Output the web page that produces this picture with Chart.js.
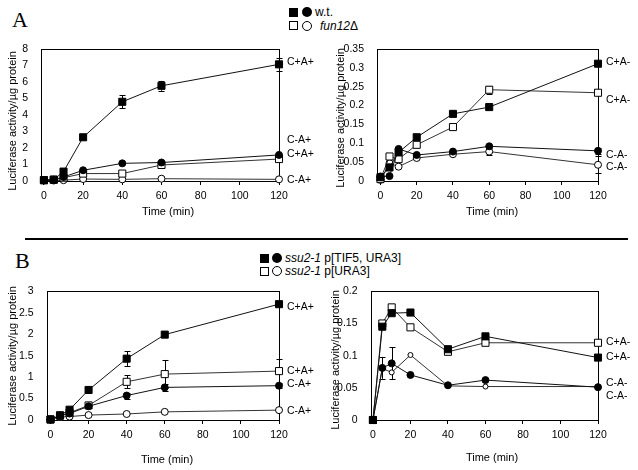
<!DOCTYPE html>
<html><head><meta charset="utf-8">
<script src="https://cdn.jsdelivr.net/npm/chart.js@4.4.1/dist/chart.umd.min.js"></script>
<style>
html,body{margin:0;padding:0;background:#fff;}
#wrap{position:relative;width:638px;height:470px;overflow:hidden;font-family:"Liberation Sans",Arial,sans-serif;color:#000;}
canvas{position:absolute;}
.lbl{position:absolute;font-size:12px;line-height:14px;white-space:nowrap;}
.big{position:absolute;font-family:"Liberation Serif","Times New Roman",serif;font-size:22px;line-height:22px;}
.sq{position:absolute;width:9px;height:9px;background:#000;box-sizing:border-box;}
.sq.o{background:#fff;border:1px solid #000;}
.ci{position:absolute;width:10px;height:10px;border-radius:50%;background:#000;box-sizing:border-box;}
.ci.o{background:#fff;border:1px solid #000;}
#rule{position:absolute;left:25px;top:237.5px;width:603px;height:2.5px;background:#000;}
</style></head><body>
<div id="wrap">
  <div class="big" style="left:12px;top:8.5px;">A</div>
  <div class="sq" style="left:289px;top:7.5px;"></div><div class="ci" style="left:302px;top:7px;"></div>
  <div class="lbl" style="left:315px;top:5px;">w.t.</div>
  <div class="sq o" style="left:289px;top:21px;"></div><div class="ci o" style="left:302px;top:20.5px;"></div>
  <div class="lbl" style="left:320px;top:18.5px;"><i>fun12</i>Δ</div>

  <div id="rule"></div>

  <div class="big" style="left:15px;top:249.5px;">B</div>
  <div class="sq" style="left:260px;top:253.5px;"></div><div class="ci" style="left:272px;top:253px;"></div>
  <div class="lbl" style="left:285px;top:251px;"><i>ssu2-1</i> p[TIF5, URA3]</div>
  <div class="sq o" style="left:260px;top:266.5px;"></div><div class="ci o" style="left:272px;top:266px;"></div>
  <div class="lbl" style="left:285px;top:264px;"><i>ssu2-1</i> p[URA3]</div>

  <canvas id="cAL"></canvas>
  <canvas id="cAR"></canvas>
  <canvas id="cBL"></canvas>
  <canvas id="cBR"></canvas>
</div>
<script>
// ---------- DATA ----------
const time = [0, 5, 10, 20, 40, 60, 120];
const xTicks = [0, 20, 40, 60, 80, 100, 120];

// Panel A, left: w.t. vs fun12Δ, C+A+ (squares) and C-A+ (circles)
const aL_wt_CpAp      = [0.05, 0.08, 0.57, 2.65, 4.80, 5.77, 7.07];
const aL_wt_CpAp_err  = [0, 0, 0, 0, 0.40, 0.30, 0.38];
const aL_wt_CmAp      = [0.05, 0.08, 0.24, 0.65, 1.07, 1.12, 1.58];
const aL_fun_CpAp     = [0.05, 0.08, 0.20, 0.45, 0.45, 0.97, 1.33];
const aL_fun_CmAp     = [0.03, 0.03, 0.05, 0.12, 0.10, 0.14, 0.10];
const aL_yTicks = [0, 1, 2, 3, 4, 5, 6, 7, 8];
const aL_notes = ['C+A+', 'C-A+', 'C+A+', 'C-A+'];
const aL_noteY = [7.23, 2.48, 1.64, 0.06];

// Panel A, right: C+A- (squares) and C-A- (circles)
const aR_wt_CpAm      = [0.010, 0.036, 0.076, 0.116, 0.178, 0.196, 0.311];
const aR_fun_CpAm     = [0.005, 0.065, 0.058, 0.096, 0.143, 0.242, 0.234];
const aR_fun_CpAm_err = [0, 0, 0, 0, 0, 0.010, 0];
const aR_wt_CmAm      = [0.012, 0.013, 0.085, 0.069, 0.078, 0.092, 0.080];
const aR_wt_CmAm_err  = [0, 0, 0, 0, 0, 0, 0.008];
const aR_fun_CmAm     = [0.003, 0.047, 0.038, 0.061, 0.071, 0.078, 0.043];
const aR_fun_CmAm_err = [0, 0, 0, 0, 0, 0.010, 0.022];
const aR_yTicks = [0, 0.05, 0.1, 0.15, 0.2, 0.25, 0.3, 0.35];
const aR_notes = ['C+A-', 'C+A-', 'C-A-', 'C-A-'];
const aR_noteY = [0.314, 0.2135, 0.069, 0.038];

// Panel B, left: ssu2-1 p[TIF5, URA3] vs ssu2-1 p[URA3], C+A+ and C-A+
const bL_tif_CpAp      = [0.015, 0.11, 0.24, 0.70, 1.43, 1.99, 2.70];
const bL_tif_CpAp_err  = [0, 0, 0, 0, 0.17, 0, 0.04];
const bL_ura_CpAp      = [0.01, 0.10, 0.17, 0.34, 0.89, 1.07, 1.14];
const bL_ura_CpAp_err  = [0, 0, 0, 0, 0.15, 0.33, 0.28];
const bL_tif_CmAp      = [0.01, 0.10, 0.15, 0.32, 0.57, 0.76, 0.80];
const bL_tif_CmAp_err  = [0, 0, 0, 0, 0.07, 0.08, 0.05];
const bL_ura_CmAp      = [0.01, 0.07, 0.08, 0.115, 0.14, 0.19, 0.23];
const bL_yTicks = [0, 0.5, 1, 1.5, 2, 2.5, 3];
const bL_notes = ['C+A+', 'C+A+', 'C-A+', 'C-A+'];
const bL_noteY = [2.64, 1.13, 0.83, 0.21];

// Panel B, right: C+A- and C-A-
const bR_tif_CpAm      = [0, 0.145, 0.166, 0.167, 0.110, 0.130, 0.097];
const bR_ura_CpAm      = [0, 0.150, 0.175, 0.144, 0.106, 0.120, 0.120];
const bR_tif_CmAm      = [0, 0.081, 0.088, 0.070, 0.054, 0.062, 0.051];
const bR_tif_CmAm_err  = [0, 0.017, 0.025, 0, 0, 0, 0];
const bR_ura_CmAm      = [0, 0.080, 0.074, 0.101, 0.053, 0.052, 0.052];
const bR_yTicks = [0, 0.05, 0.1, 0.15, 0.2];
const bR_notes = ['C+A-', 'C+A-', 'C-A-', 'C-A-'];
const bR_noteY = [0.1205, 0.0974, 0.0574, 0.0374];

const yTitle = 'Luciferase activity/µg protein';
const xTitle = 'Time (min)';

// ---------- RENDERING ----------
const FONT = '"Liberation Sans", Arial, sans-serif';
const fmt = v => String(Number(v.toFixed(3)));

function series(vals, kind, err, small) {
  const filled = kind === 'fs' || kind === 'fc';
  const square = kind === 'fs' || kind === 'os';
  return {
    data: time.map((t, i) => ({x: t, y: vals[i]})),
    errors: err || null,
    borderColor: filled ? '#111' : '#333',
    borderWidth: 1,
    tension: 0,
    clip: false,
    pointStyle: square ? 'rect' : 'circle',
    pointRadius: square ? 5 : (small ? 2.5 : 3.5),
    pointBackgroundColor: filled ? '#000' : '#fff',
    pointBorderColor: '#000',
    pointBorderWidth: 1
  };
}

function panel(id, geo, datasets, yTicks, xMin, notes, noteY, tpos) {
  const cv = document.getElementById(id);
  cv.width = geo.cw; cv.height = geo.ch;
  cv.style.left = geo.cx + 'px'; cv.style.top = geo.cy + 'px';
  cv.style.width = geo.cw + 'px'; cv.style.height = geo.ch + 'px';

  const framePlugin = {
    id: 'frame',
    beforeDatasetsDraw(chart) {
      const ctx = chart.ctx, a = chart.chartArea;
      const xs = chart.scales.x, ys = chart.scales.y;
      ctx.save();
      ctx.strokeStyle = '#000'; ctx.lineWidth = 1;
      const l = Math.round(a.left) + 0.5, r = Math.round(a.right) + 0.5;
      const t = Math.round(a.top) + 0.5, b = Math.round(a.bottom) + 0.5;
      ctx.strokeRect(l, t, r - l, b - t);
      // error bars
      chart.data.datasets.forEach(ds => {
        if (!ds.errors) return;
        ds.data.forEach((p, i) => {
          const e = ds.errors[i];
          if (!e) return;
          const x = Math.round(xs.getPixelForValue(p.x)) + 0.5;
          const y1 = ys.getPixelForValue(p.y + e), y2 = ys.getPixelForValue(Math.max(0, p.y - e));
          ctx.beginPath();
          ctx.moveTo(x, y1); ctx.lineTo(x, y2);
          ctx.moveTo(x - 3, Math.round(y1) + 0.5); ctx.lineTo(x + 3, Math.round(y1) + 0.5);
          ctx.moveTo(x - 3, Math.round(y2) + 0.5); ctx.lineTo(x + 3, Math.round(y2) + 0.5);
          ctx.stroke();
        });
      });
      ctx.restore();
    },
    afterDraw(chart) {
      const ctx = chart.ctx, a = chart.chartArea, ys = chart.scales.y;
      ctx.save();
      ctx.fillStyle = '#000';
      ctx.font = '10.5px ' + FONT;
      ctx.textAlign = 'left'; ctx.textBaseline = 'middle';
      notes.forEach((n, i) => ctx.fillText(n, a.right + 8, ys.getPixelForValue(noteY[i])));
      ctx.font = '11px ' + FONT;
      ctx.textAlign = 'center';
      ctx.fillText(xTitle, tpos.xt[0] - geo.cx, tpos.xt[1] - geo.cy);
      ctx.translate(tpos.yt[0] - geo.cx, tpos.yt[1] - geo.cy);
      ctx.rotate(-Math.PI / 2);
      ctx.fillText(yTitle, 0, 0);
      ctx.restore();
    }
  };

  new Chart(cv, {
    type: 'line',
    data: {datasets},
    options: {
      responsive: false, animation: false, events: [],
      layout: {padding: {left: 0, top: geo.T - geo.cy, right: geo.cx + geo.cw - geo.R, bottom: 0}},
      plugins: {legend: {display: false}, tooltip: {enabled: false}},
      scales: {
        x: {
          type: 'linear', min: xMin, max: 120,
          afterBuildTicks: s => { s.ticks = xTicks.map(v => ({value: v})); },
          afterFit: s => { s.height = geo.cy + geo.ch - geo.B; },
          grid: {display: true, drawOnChartArea: false, drawTicks: true, tickLength: 4, color: '#000'},
          border: {display: false},
          ticks: {padding: 5, color: '#000', font: {size: 10.5, family: FONT}, maxRotation: 0, autoSkip: false}
        },
        y: {
          type: 'linear', min: 0, max: yTicks[yTicks.length - 1],
          afterBuildTicks: s => { s.ticks = yTicks.map(v => ({value: v})); },
          afterFit: s => { s.width = geo.L - geo.cx; },
          grid: {display: false},
          border: {display: false},
          ticks: {padding: 5, color: '#000', font: {size: 10.5, family: FONT}, autoSkip: false, callback: v => fmt(v)}
        }
      }
    },
    plugins: [framePlugin]
  });
}

panel('cAL', {cx: 0, cy: 35, cw: 318, ch: 190, L: 41, R: 279, T: 49, B: 181},
  [series(aL_wt_CpAp, 'fs', aL_wt_CpAp_err), series(aL_wt_CmAp, 'fc'),
   series(aL_fun_CpAp, 'os'), series(aL_fun_CmAp, 'oc')],
  aL_yTicks, -1.5, aL_notes, aL_noteY, {xt: [168, 212], yt: [12.5, 121]});

panel('cAR', {cx: 318, cy: 35, cw: 320, ch: 190, L: 377, R: 598, T: 49, B: 181},
  [series(aR_wt_CpAm, 'fs'), series(aR_wt_CmAm, 'fc', aR_wt_CmAm_err),
   series(aR_fun_CpAm, 'os', aR_fun_CpAm_err), series(aR_fun_CmAm, 'oc', aR_fun_CmAm_err)],
  aR_yTicks, -1.9, aR_notes, aR_noteY, {xt: [492, 212], yt: [341, 118]});

panel('cBL', {cx: 0, cy: 280, cw: 318, ch: 190, L: 46.5, R: 279, T: 289.5, B: 420},
  [series(bL_tif_CpAp, 'fs', bL_tif_CpAp_err), series(bL_tif_CmAp, 'fc', bL_tif_CmAp_err),
   series(bL_ura_CpAp, 'os', bL_ura_CpAp_err), series(bL_ura_CmAp, 'oc')],
  bL_yTicks, -2.1, bL_notes, bL_noteY, {xt: [167, 460], yt: [13, 356]});

panel('cBR', {cx: 318, cy: 280, cw: 320, ch: 190, L: 370.5, R: 598, T: 290, B: 420},
  [series(bR_tif_CpAm, 'fs'), series(bR_tif_CmAm, 'fc', bR_tif_CmAm_err),
   series(bR_ura_CpAm, 'os'), series(bR_ura_CmAm, 'oc', null, true)],
  bR_yTicks, -1.3, bR_notes, bR_noteY, {xt: [492, 458], yt: [336, 360]});
</script>
</body></html>
